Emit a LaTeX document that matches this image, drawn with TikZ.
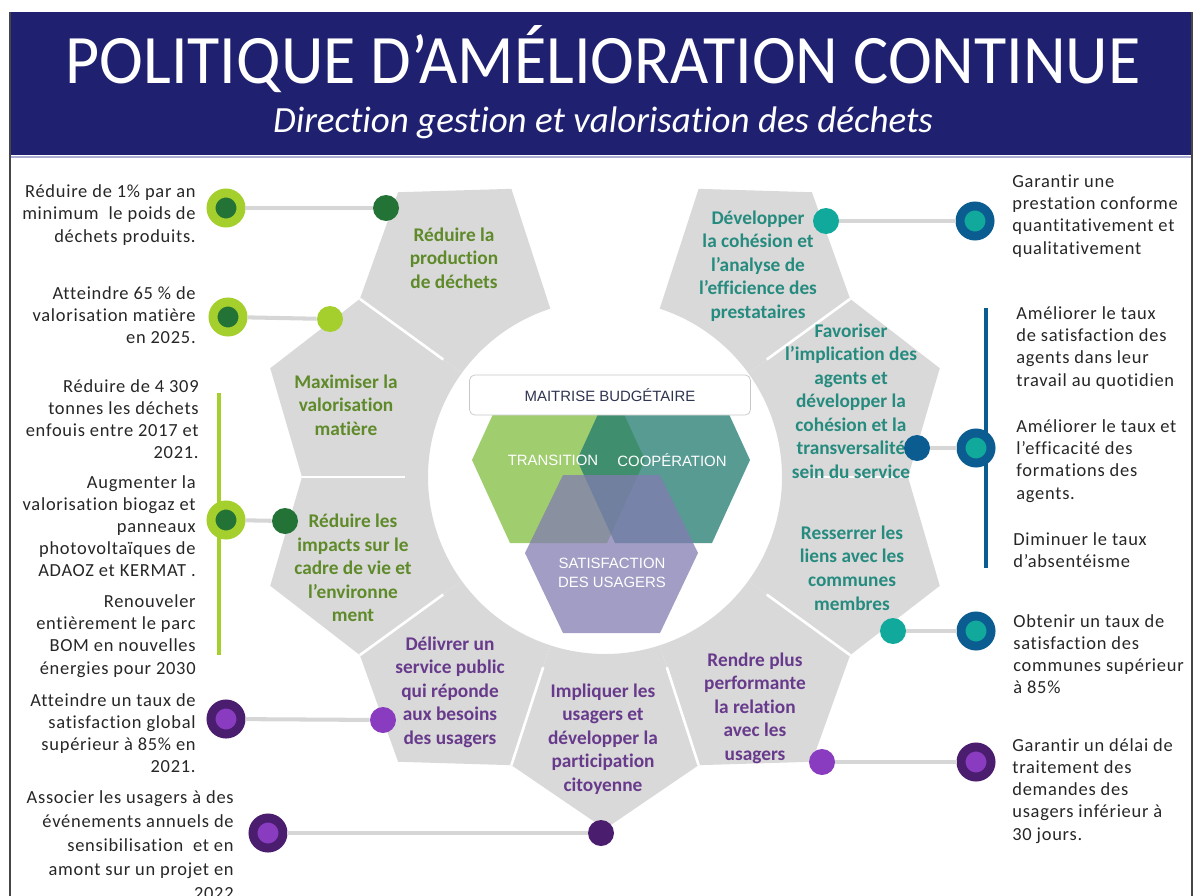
\documentclass[tikz,border=0pt]{standalone}
\usepackage{fontspec}
\setmainfont[Ligatures=NoCommon]{Carlito}
\newfontfamily\sidefont[LetterSpace=4, Ligatures=NoCommon]{Carlito}
\newfontfamily\hexfont{Liberation Sans}
\usepackage{tikz}
\usetikzlibrary{shapes.geometric}
\definecolor{navy}{RGB}{31,33,112}
\definecolor{lavline}{RGB}{170,172,210}
\definecolor{framegrey}{RGB}{70,70,70}
\definecolor{petalgrey}{RGB}{217,217,217}
\definecolor{linkgrey}{RGB}{214,214,214}
\definecolor{txtgrey}{RGB}{38,38,38}
\definecolor{leafgreen}{RGB}{95,138,42}
\definecolor{tealtxt}{RGB}{38,139,127}
\definecolor{plumtxt}{RGB}{104,58,140}
\definecolor{darkgreen}{RGB}{35,115,54}
\definecolor{lime}{RGB}{164,207,44}
\definecolor{violet}{RGB}{138,60,192}
\definecolor{darkviolet}{RGB}{75,29,110}
\definecolor{teal}{RGB}{18,169,157}
\definecolor{darkblue}{RGB}{11,93,145}
\definecolor{hexgreen}{RGB}{160,206,110}
\definecolor{hexteal}{RGB}{31,122,110}
\definecolor{hexlav}{RGB}{130,124,176}
\definecolor{budgettxt}{RGB}{47,53,80}
\tikzstyle{goal} = [align=center, inner sep=0pt, font=\bfseries\fontsize{11}{13.4}\selectfont]
\tikzstyle{aim} = [inner sep=0pt, text=txtgrey, font=\sidefont\fontsize{10.5}{12.6}\selectfont]
\tikzstyle{bigdot} = [circle, minimum size=0.6cm, line width=0.18cm, inner sep=0pt]
\tikzstyle{dot} = [circle, minimum size=0.52cm, inner sep=0pt]
\tikzstyle{link} = [draw=linkgrey, line width=2.3pt]
\tikzstyle{hexlabel} = [align=center, inner sep=0pt, text=white, font=\hexfont\fontsize{8.5}{10.8}\selectfont]

\begin{document}
\begin{tikzpicture}[x=0.02cm, y=-0.02cm]
\useasboundingbox (0,0) rectangle (1197,896);
% header
\fill[navy] (10,12) rectangle (1192,155);
\draw[lavline, line width=1.2pt] (10,157) -- (1192,157);
\draw[framegrey, line width=1pt] (10,12) -- (10,896);
\draw[framegrey, line width=1pt] (1192,12) -- (1192,896);
\node (title) [anchor=base, inner sep=0pt, text=white] at (603,83) {\resizebox{21.5cm}{1.16cm}{POLITIQUE D’AMÉLIORATION CONTINUE}};
\node (subtitle) [anchor=base, inner sep=0pt, text=white] at (603,132) {\resizebox{13.2cm}{!}{\itshape Direction gestion et valorisation des déchets}};

% ring of petals
\coordinate (c) at (605,477);
\begin{scope}[shift={(c)}]
  \foreach \a in {-54,-18,...,234}
    \fill[petalgrey] (\a-18:177) -- (\a-18:303) -- (\a:352) -- (\a+18:303) -- (\a+18:177)
      arc[start angle=\a+18, end angle=\a-18, radius=177] -- cycle;
  \foreach \a in {-36,0,...,216}
    \draw[white, line width=1.5pt] (\a:200) -- (\a:303);
\end{scope}

% centre hexagons
\fill[hexgreen] (472,460) -- (510,377) -- (607,377) -- (645,460) -- (607,543) -- (510,543) -- cycle;
\fill[hexteal, fill opacity=0.75] (577,460) -- (615,377) -- (712,377) -- (750,460) -- (712,543) -- (615,543) -- cycle;
\fill[hexlav, fill opacity=0.75] (525,553) -- (563,475) -- (660,475) -- (698,553) -- (660,633) -- (563,633) -- cycle;
\node (budget) [draw=black!22, fill=white, rounded corners=3pt, minimum width=5.62cm, minimum height=0.8cm, text=budgettxt, font=\hexfont\fontsize{8.5}{10}\selectfont] at (610,395) {MAITRISE BUDGÉTAIRE};
\node (transition) [hexlabel] at (553,460) {TRANSITION};
\node (coop) [hexlabel] at (672,460) {COOPÉRATION};
\node (usagers) [hexlabel] at (612,573) {SATISFACTION\\DES USAGERS};

% petal texts
\node (g1) [goal, text=leafgreen] at (454,258) {Réduire la\\production\\de déchets};
\node (g2) [goal, text=leafgreen] at (346,405) {Maximiser la\\valorisation\\matière};
\node (g3) [goal, text=leafgreen] at (353,568) {Réduire les\\impacts sur le\\cadre de vie et\\l’environne\\ment};
\node (g4) [goal, text=plumtxt] at (450,692) {Délivrer un\\service public\\qui réponde\\aux besoins\\des usagers};
\node (g5) [goal, text=plumtxt] at (603,739) {Impliquer les\\usagers et\\développer la\\participation\\citoyenne};
\node (g6) [goal, text=plumtxt] at (755,708) {Rendre plus\\performante\\la relation\\avec les\\usagers};
\node (g7) [goal, text=tealtxt] at (852,568) {Resserrer les\\liens avec les\\communes\\membres};
\node (g8) [goal, text=tealtxt] at (851,401) {Favoriser\\l’implication des\\agents et\\développer la\\cohésion et la\\transversalité\\sein du service};
\node (g9) [goal, text=tealtxt] at (758,266) {Développer\\la cohésion et\\l’analyse de\\l’efficience des\\prestataires};

% brackets
\coordinate (limetop) at (219,393);
\coordinate (limebot) at (219,655);
\coordinate (bluetop) at (986,308);
\coordinate (bluebot) at (986,568);
\draw[lime, line width=2.3pt] (limetop) -- (limebot);
\draw[darkblue, line width=2.3pt] (bluetop) -- (bluebot);

% dots
\node (b1) [bigdot, draw=lime, fill=darkgreen] at (226,208) {};
\node (b2) [bigdot, draw=lime, fill=darkgreen] at (228,317) {};
\node (b3) [bigdot, draw=lime, fill=darkgreen] at (226,520) {};
\node (b4) [bigdot, draw=darkviolet, fill=violet] at (226,719) {};
\node (b5) [bigdot, draw=darkviolet, fill=violet] at (268,833) {};
\node (b6) [bigdot, draw=darkblue, fill=teal] at (975,221) {};
\node (b7) [bigdot, draw=darkblue, fill=teal] at (976,448) {};
\node (b8) [bigdot, draw=darkblue, fill=teal] at (976,631) {};
\node (b9) [bigdot, draw=darkviolet, fill=violet] at (976,762) {};
\node (s1) [dot, fill=darkgreen] at (386,208) {};
\node (s2) [dot, fill=lime] at (330,319) {};
\node (s3) [dot, fill=darkgreen] at (285,521) {};
\node (s4) [dot, fill=violet] at (383,720) {};
\node (s5) [dot, fill=darkviolet] at (601,833) {};
\node (s6) [dot, fill=teal] at (826,221) {};
\node (s7) [dot, fill=darkblue] at (917,448) {};
\node (s8) [dot, fill=teal] at (893,631) {};
\node (s9) [dot, fill=violet] at (822,762) {};
\draw[link] (b1) -- (s1);
\draw[link] (b2) -- (s2);
\draw[link] (b3) -- (s3);
\draw[link] (b4) -- (s4);
\draw[link] (b5) -- (s5);
\draw[link] (b6) -- (s6);
\draw[link] (b7) -- (s7);
\draw[link] (b8) -- (s8);
\draw[link] (b9) -- (s9);

% objectives left
\node (a1) [aim, align=right, anchor=east] at (196,215) {Réduire de 1\% par an\\minimum\ \ le poids de\\déchets produits.};
\node (a2) [aim, align=right, anchor=east] at (196,315) {Atteindre 65 \% de\\valorisation matière\\en 2025.};
\node (a3) [aim, align=right, anchor=east] at (199,419) {Réduire de 4 309\\tonnes les déchets\\enfouis entre 2017 et\\2021.};
\node (a4) [aim, align=right, anchor=east] at (196,526) {Augmenter la\\valorisation biogaz et\\panneaux\\photovoltaïques de\\ADAOZ et KERMAT .};
\node (a5) [aim, align=right, anchor=east] at (196,636) {Renouveler\\entièrement le parc\\BOM en nouvelles\\énergies pour 2030};
\node (a6) [aim, align=right, anchor=east] at (196,733) {Atteindre un taux de\\satisfaction global\\supérieur à 85\% en\\2021.};
\node (a7) [aim, align=right, anchor=east, font=\sidefont\fontsize{10.5}{13.6}\selectfont] at (234,845) {Associer les usagers à des\\événements annuels de\\sensibilisation\ \ et en\\amont sur un projet en\\2022};
% objectives right
\node (a8) [aim, align=left, anchor=west] at (1012,216) {Garantir une\\prestation conforme\\quantitativement et\\qualitativement};
\node (a9) [aim, align=left, anchor=west] at (1016,348) {Améliorer le taux\\de satisfaction des\\agents dans leur\\travail au quotidien};
\node (a10) [aim, align=left, anchor=west] at (1016,461) {Améliorer le taux et\\l’efficacité des\\formations des\\agents.};
\node (a11) [aim, align=left, anchor=west] at (1013,550) {Diminuer le taux\\d’absentéisme};
\node (a12) [aim, align=left, anchor=west] at (1013,654) {Obtenir un taux de\\satisfaction des\\communes supérieur\\à 85\%};
\node (a13) [aim, align=left, anchor=west] at (1012,791) {Garantir un délai de\\traitement des\\demandes des\\usagers inférieur à\\30 jours.};
\end{tikzpicture}
\end{document}
